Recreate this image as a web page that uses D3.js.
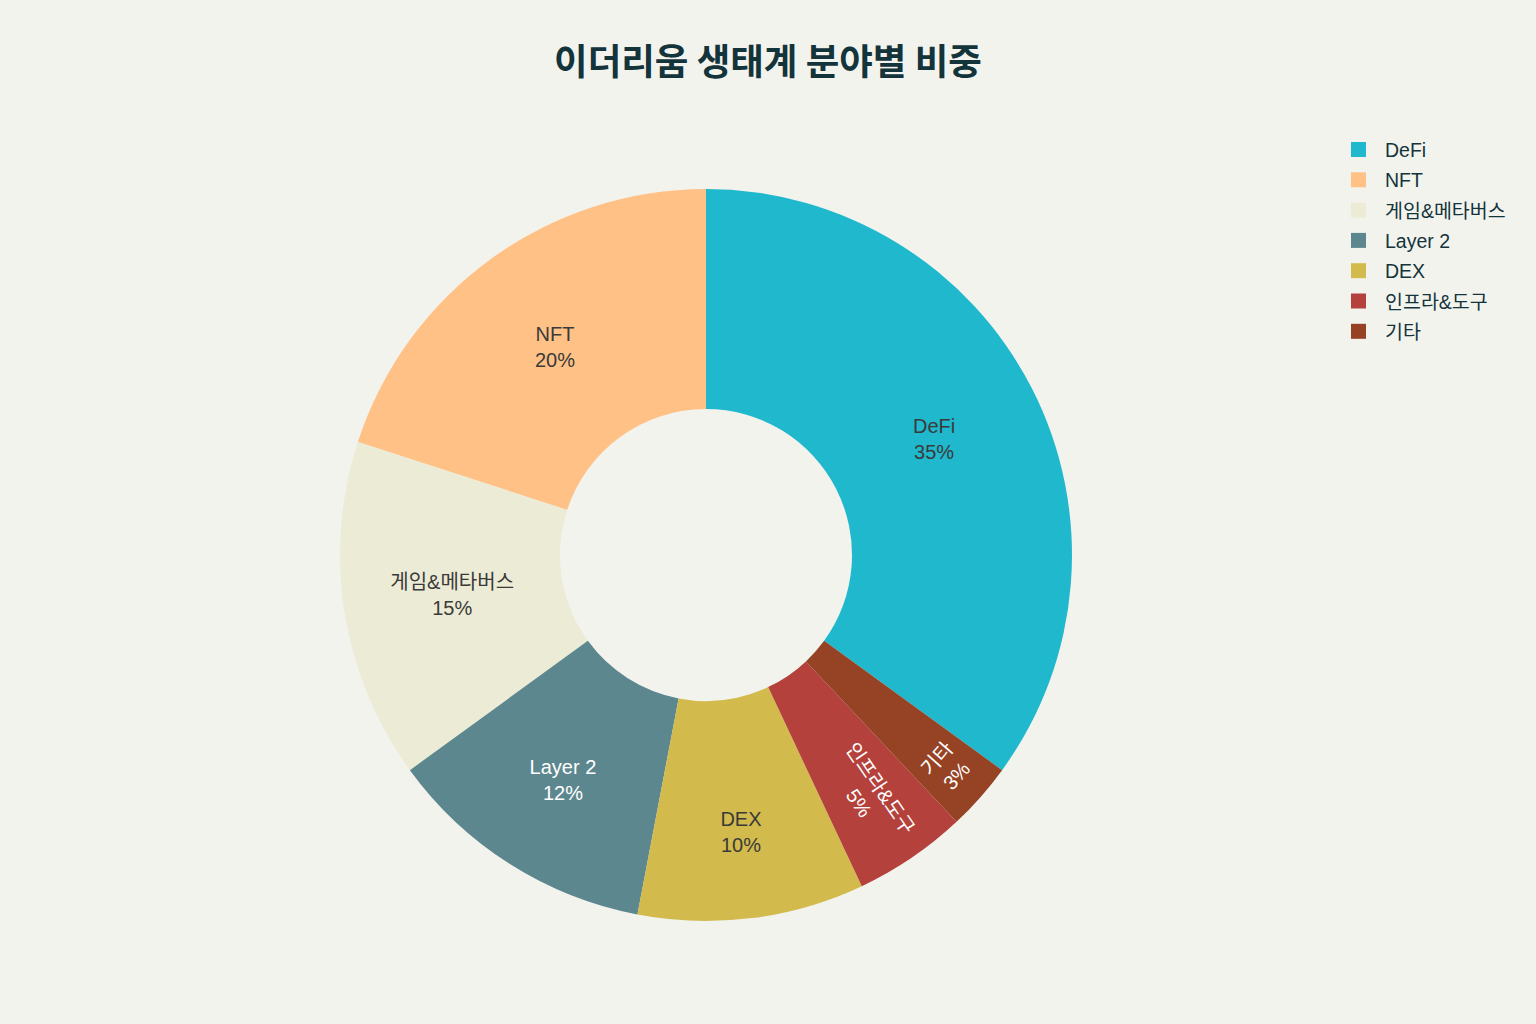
<!DOCTYPE html>
<html>
<head>
<meta charset="utf-8">
<script src="https://cdn.jsdelivr.net/npm/d3@7"></script>
<style>
  html, body { margin: 0; padding: 0; background: #F3F3EE; }
  svg { display: block; }
  text { font-family: "Liberation Sans", "Noto Sans CJK KR", sans-serif; }
</style>
</head>
<body>
<div id="chart"></div>
<script>
// legend order
var categories = ["DeFi", "NFT", "게임&메타버스", "Layer 2", "DEX", "인프라&도구", "기타"];
var shares = [35, 20, 15, 12, 10, 5, 3];
var colors = ["#1FB8CD", "#FFC185", "#ECEBD5", "#5D878F", "#D2BA4C", "#B4413C", "#964325"];
// clockwise order of the slices, starting at 12 o'clock
var sliceOrder = ["DeFi", "기타", "인프라&도구", "DEX", "Layer 2", "게임&메타버스", "NFT"];
var darkSlices = ["Layer 2", "인프라&도구", "기타"];
var radialLabels = ["인프라&도구"];
var tangentLabels = ["기타"];

var width = 1536, height = 1024;
var cx = 706, cy = 555;
var outerR = 366, innerR = 146;
// how far out each inside label sits (small slices get pushed outward)
var labelRadius = { "DeFi": 256, "NFT": 257, "게임&메타버스": 257, "Layer 2": 267, "DEX": 279, "인프라&도구": 291, "기타": 321 };

var data = categories.map(function(c, i) {
  return { name: c, value: shares[i], color: colors[i] };
});

var svg = d3.select("#chart")
  .append("svg")
  .attr("width", width)
  .attr("height", height)
  .attr("viewBox", [0, 0, width, height]);

svg.append("rect")
  .attr("width", width)
  .attr("height", height)
  .attr("fill", "#F3F3EE");

// title
svg.append("text")
  .attr("x", 768)
  .attr("y", 75)
  .attr("text-anchor", "middle")
  .attr("font-size", 36.5)
  .attr("font-weight", "bold")
  .attr("fill", "#13343B")
  .style("font-family", "'Noto Sans CJK KR', sans-serif")
  .text("이더리움 생태계 분야별 비중");

var pie = d3.pie()
  .value(function(d) { return d.value; })
  .sort(function(a, b) { return sliceOrder.indexOf(a.name) - sliceOrder.indexOf(b.name); });

var arc = d3.arc()
  .innerRadius(innerR)
  .outerRadius(outerR);

var arcs = pie(data);

var g = svg.append("g")
  .attr("transform", "translate(" + cx + "," + cy + ")");

g.selectAll("path")
  .data(arcs)
  .enter()
  .append("path")
  .attr("d", arc)
  .attr("fill", function(d) { return d.data.color; });

var labels = g.selectAll("g.label")
  .data(arcs)
  .enter()
  .append("g")
  .attr("class", "label")
  .attr("transform", function(d) {
    var a = (d.startAngle + d.endAngle) / 2;
    var r = labelRadius[d.data.name];
    var x = r * Math.sin(a);
    var y = -r * Math.cos(a);
    var deg = a * 180 / Math.PI;
    var rot = 0;
    if (radialLabels.indexOf(d.data.name) >= 0) rot = deg - 90;
    if (tangentLabels.indexOf(d.data.name) >= 0) rot = deg - 180;
    return "translate(" + x + "," + y + ") rotate(" + rot + ")";
  });

labels.append("text")
  .attr("text-anchor", "middle")
  .attr("font-size", 20)
  .attr("fill", function(d) { return darkSlices.indexOf(d.data.name) >= 0 ? "#ffffff" : "#3a3a3a"; })
  .each(function(d) {
    var t = d3.select(this);
    t.append("tspan").attr("x", 0).attr("y", -6).text(d.data.name);
    t.append("tspan").attr("x", 0).attr("y", 20).text(d.data.value + "%");
  });

// legend
var legend = svg.append("g")
  .attr("transform", "translate(1351,150)");

var rows = legend.selectAll("g")
  .data(data)
  .enter()
  .append("g")
  .attr("transform", function(d, i) { return "translate(0," + (i * 30.3) + ")"; });

rows.append("rect")
  .attr("x", 0)
  .attr("y", -8)
  .attr("width", 15)
  .attr("height", 15)
  .attr("fill", function(d) { return d.color; });

rows.append("text")
  .attr("x", 34)
  .attr("y", 7)
  .attr("font-size", 19.5)
  .attr("fill", "#13343B")
  .text(function(d) { return d.name; });
</script>
</body>
</html>
